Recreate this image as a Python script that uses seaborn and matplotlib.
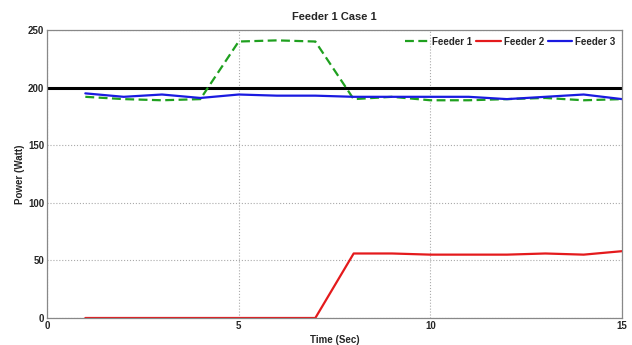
import matplotlib
matplotlib.use("Agg")
import matplotlib.pyplot as plt
import seaborn as sns
import pandas as pd

time = [1, 2, 3, 4, 5, 6, 7, 8, 9, 10, 11, 12, 13, 14, 15]
feeder1 = [192, 190, 189, 190, 240, 241, 240, 190, 192, 189, 189, 190, 191, 189, 190]
feeder2 = [0, 0, 0, 0, 0, 0, 0, 56, 56, 55, 55, 55, 56, 55, 58]
feeder3 = [195, 192, 194, 191, 194, 193, 193, 192, 192, 192, 192, 190, 192, 194, 190]
limit_x = [0, 15]
limit_y = [200, 200]

sns.set_style("white")
plt.rcParams['font.family'] = ['Liberation Sans', 'DejaVu Sans']

fig = plt.figure(figsize=(6.32, 3.45), dpi=100)
ax = fig.add_axes([47/632, 1 - 318/345, (622-47)/632, (318-30)/345])

df = pd.DataFrame({"t": time, "f1": feeder1, "f2": feeder2, "f3": feeder3})
sns.lineplot(x=limit_x, y=limit_y, ax=ax, color="black", lw=2.2, legend=False)
sns.lineplot(data=df, x="t", y="f1", ax=ax, color="#1fa01f", lw=1.6, linestyle=(0, (4, 2)), label="Feeder 1")
sns.lineplot(data=df, x="t", y="f2", ax=ax, color="#e41a1c", lw=1.6, label="Feeder 2")
sns.lineplot(data=df, x="t", y="f3", ax=ax, color="#1a1ae0", lw=1.6, label="Feeder 3")

ax.set_xlim(0, 15)
ax.set_ylim(0, 250)
ax.set_xticks([0, 5, 10, 15])
ax.set_yticks([0, 50, 100, 150, 200, 250])
ax.grid(True, linestyle=":", color="#aaaaaa", lw=0.8)
for s in ax.spines.values():
    s.set_color("#888888")
    s.set_linewidth(0.9)
ax.tick_params(labelsize=7, length=0, pad=2)
for lab in ax.get_xticklabels() + ax.get_yticklabels():
    lab.set_fontweight("bold")
ax.set_xlabel("Time (Sec)", fontsize=7, fontweight="bold", labelpad=3)
ax.set_ylabel("Power (Watt)", fontsize=7, fontweight="bold", labelpad=2)
ax.set_title("Feeder 1 Case 1", fontsize=8, fontweight="bold", pad=7)
leg = ax.legend(loc="upper right", ncol=3, frameon=False, handlelength=2.5,
                columnspacing=0.4, handletextpad=0.3, borderaxespad=0.3,
                prop={"weight": "bold", "size": 7})
fig.savefig("out.png", dpi=100)
